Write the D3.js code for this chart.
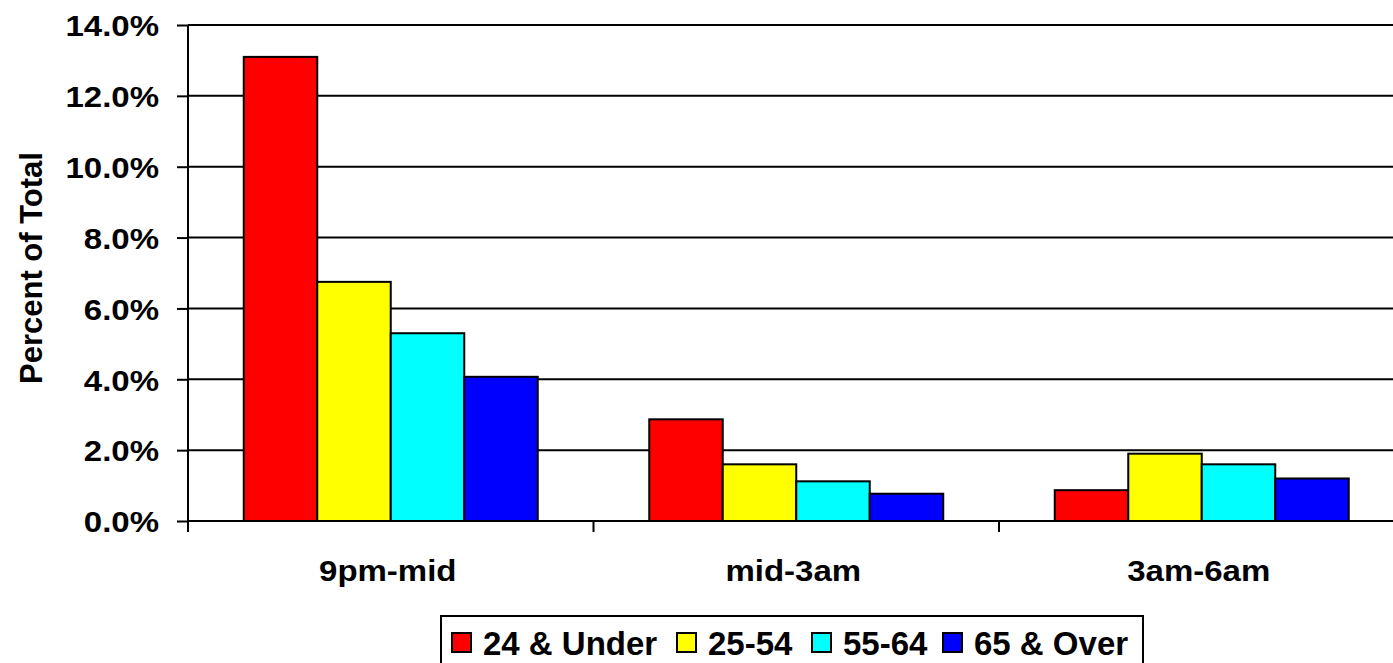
<!DOCTYPE html>
<html><head><meta charset="utf-8">
<script src="https://cdn.jsdelivr.net/npm/d3@7"></script>
<style>body{margin:0;background:#fff}svg{display:block}text{font-family:"Liberation Sans",Arial,sans-serif;font-weight:bold;fill:#000}</style>
</head><body><svg id="c" width="1393" height="663"></svg>
<script>
const categories = ["9pm-mid", "mid-3am", "3am-6am"];
const seriesNames = ["24 & Under", "25-54", "55-64", "65 & Over"];
const seriesColors = ["#ff0000", "#ffff00", "#00ffff", "#0000ff"];
const under24 = [0.131, 0.0287, 0.0087];
const age25_54 = [0.0675, 0.016, 0.019];
const age55_64 = [0.053, 0.0112, 0.016];
const over65 = [0.0407, 0.0077, 0.012];
const yTicks = [0, 0.02, 0.04, 0.06, 0.08, 0.10, 0.12, 0.14];
const series = [under24, age25_54, age55_64, over65];

const svg = d3.select("#c");
const pLeft = 188, pTop = 25, pBottom = 521, pRight = 1404.5;
const y = d3.scaleLinear().domain([0, 0.14]).range([pBottom, pTop]);
const x0 = d3.scaleBand().domain(categories).range([pLeft, pRight]).padding(0);
const inset = x0.bandwidth() * 0.1375;
const x1 = d3.scaleBand().domain(seriesNames).range([inset, x0.bandwidth() - inset]).padding(0);

// gridlines
svg.append("g").selectAll("line").data(yTicks.slice(1)).join("line")
  .attr("x1", pLeft).attr("x2", 1393).attr("y1", d => y(d)).attr("y2", d => y(d))
  .attr("stroke", "#000").attr("stroke-width", 2);

// y axis
const yAxis = d3.axisLeft(y).tickValues(yTicks).tickFormat(d3.format(".1%")).tickSize(11).tickPadding(16);
const ya = svg.append("g").attr("transform", `translate(${pLeft},0)`).call(yAxis);
ya.select(".domain").remove();
ya.selectAll("line").attr("stroke", "#000").attr("stroke-width", 2);
ya.selectAll("text")
  .attr("x", 0).attr("dy", "0.36em")
  .attr("transform", "translate(-29,0) scale(1.1,1)")
  .style("font-size", "30px").style("font-family", '"Liberation Sans",Arial,sans-serif').style("font-weight", "bold").attr("fill", "#000");

// bars
const g = svg.append("g");
categories.forEach((c, ci) => {
  series.forEach((s, si) => {
    g.append("rect")
      .attr("x", x0(c) + x1(seriesNames[si]))
      .attr("y", y(s[ci]))
      .attr("width", x1.bandwidth())
      .attr("height", y(0) - y(s[ci]))
      .attr("fill", seriesColors[si])
      .attr("stroke", "#000").attr("stroke-width", 2);
  });
});

// axes lines
svg.append("line").attr("x1", pLeft).attr("x2", pLeft).attr("y1", pTop).attr("y2", pBottom + 11).attr("stroke", "#000").attr("stroke-width", 2);
svg.append("line").attr("x1", pLeft).attr("x2", 1393).attr("y1", pBottom).attr("y2", pBottom).attr("stroke", "#000").attr("stroke-width", 2);
// category boundary ticks
svg.append("g").selectAll("line").data(categories.slice(1)).join("line")
  .attr("x1", d => x0(d)).attr("x2", d => x0(d)).attr("y1", pBottom).attr("y2", pBottom + 11)
  .attr("stroke", "#000").attr("stroke-width", 2);
// category labels
svg.append("g").selectAll("text").data(categories).join("text")
  .attr("transform", d => `translate(${x0(d) + x0.bandwidth() / 2 - 3},581) scale(1.1,1)`)
  .attr("text-anchor", "middle").style("font-size", "30px").text(d => d);

// y title
svg.append("text").attr("transform", "translate(42,268) rotate(-90)")
  .attr("text-anchor", "middle").style("font-size", "31px").text("Percent of Total");

// legend
const lg = svg.append("g");
lg.append("rect").attr("x", 441).attr("y", 616).attr("width", 702).attr("height", 60)
  .attr("fill", "#fff").attr("stroke", "#000").attr("stroke-width", 2);
const legendX = [452, 677, 812, 943];
seriesNames.forEach((n, i) => {
  lg.append("rect").attr("x", legendX[i]).attr("y", 633).attr("width", 19).attr("height", 19)
    .attr("fill", seriesColors[i]).attr("stroke", "#000").attr("stroke-width", 2);
  lg.append("text").attr("x", legendX[i] + 31).attr("y", 655).style("font-size", "33px").text(n);
});
</script></body></html>
